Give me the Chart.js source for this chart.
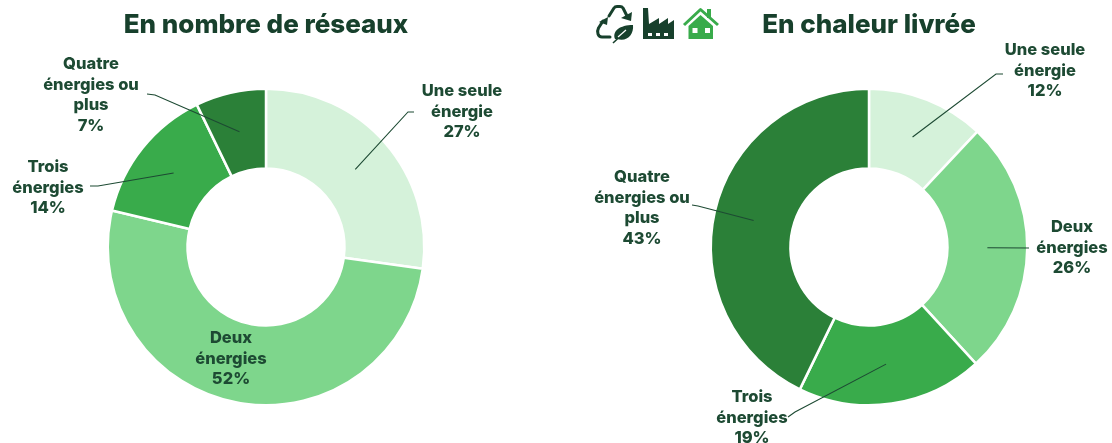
<!DOCTYPE html>
<html lang="fr"><head><meta charset="utf-8">
<style>
html,body{margin:0;padding:0;background:#fff;overflow:hidden;width:1112px;height:443px}
canvas{position:absolute;top:0}
#icons{position:absolute;left:590px;top:0}
</style>
<script src="https://cdn.jsdelivr.net/npm/chart.js@4"></script>
</head><body>
<div style="position:absolute;left:0;top:0;width:532px;height:443px"><canvas id="c1"></canvas></div>
<div style="position:absolute;left:580px;top:0;width:578px;height:443px"><canvas id="c2"></canvas></div>
<svg id="icons" width="140" height="46" viewBox="0 0 140 46">
 <g fill="none" stroke="#17402c" stroke-width="3" stroke-linejoin="round" stroke-linecap="round">
  <path d="M19 16 L24 8 Q25 6.500 27 6.500 H30 Q32 6.500 33 8 L37 16"/>
  <path d="M13 21 L8.500 28 Q7 31 8 34 Q9 37 12 37 H20"/>
 </g>
 <path d="M31 18 L41 21 L42 12 Z" fill="#17402c"/>
 <path d="M9 22 L17 25 L18 17 Z" fill="#17402c"/>
 <path d="M25 39 C22 31 30 25 43 25 C44 35 37 42 27 39 Z" fill="#17402c"/>
 <path d="M23 43 L37 30" stroke="#17402c" stroke-width="1.600" fill="none"/>
 <path d="M28 37 L36 30" stroke="#fff" stroke-width="1.200" fill="none"/>
 <path d="M53 39 V8 H58 L59 24 L69 18 V24 L78 18 V24 L84 20 V39 Z" fill="#17402c"/>
 <path d="M58 33h4v3h-4zM66 33h4v3h-4zM74 33h4v3h-4z" fill="#fff"/>
 <path d="M94 25 L110.500 9.500 L128 25" fill="none" stroke="#39ab4b" stroke-width="3" stroke-linejoin="round"/>
 <path d="M117 9h4v9h-4z" fill="#39ab4b"/>
 <path d="M98.500 26 L110.500 15 L123 26 V39 H98.500 Z" fill="#39ab4b"/>
 <path d="M102.500 28h5v5h-5zM115 28h5v5h-5z" fill="#fff"/>
</svg>
<script>
// ---- data ----
const categories = ["Une seule énergie", "Deux énergies", "Trois énergies", "Quatre énergies ou plus"];
const reseauxValues = [27.2, 51.5, 14.1, 7.2];
const chaleurValues = [12, 26.2, 19, 42.8];
const sliceColors = ["#d5f2da", "#7ed68c", "#39ab4b", "#2b8038"];
const titleReseaux = "En nombre de réseaux";
const titleChaleur = "En chaleur livrée";
const wrappedLabels = [["Une seule", "énergie"], ["Deux", "énergies"], ["Trois", "énergies"], ["Quatre", "énergies ou", "plus"]];

// ---- label layout, relative to each doughnut centre ----
const reseauxLayout = [
  {x: 196, y: -157, elbow: [[142, -135], [148, -135]]},
  {x: -35, y: 90, elbow: null},
  {x: -218, y: -81, elbow: [[-168, -61], [-176, -61]]},
  {x: -175, y: -184, elbow: [[-111, -152], [-119, -153]]}
];
const chaleurLayout = [
  {x: 176, y: -198, elbow: [[127, -173], [134, -173]]},
  {x: 203, y: -21, elbow: [[160, 1], [160, 1]]},
  {x: -117, y: 149, elbow: [[-74, 165], [-81, 170]]},
  {x: -227, y: -71, elbow: [[-171, -41], [-177, -42]]}
];

const textColor = "#1d4a33";
const leaderColor = "#1d4a33";
const labelFont = "800 16.5px Inter, 'Noto Sans', sans-serif";
const lineGap = 20.7;

const calloutPlugin = {
  id: "callouts",
  afterDatasetsDraw(chart, args, opts) {
    const ctx = chart.ctx;
    const arcs = chart.getDatasetMeta(0).data;
    const cx = arcs[0].x, cy = arcs[0].y;
    ctx.save();
    opts.layout.forEach((item, i) => {
      if (item.elbow) {
        const p = arcs[i].getCenterPoint();
        ctx.beginPath();
        ctx.moveTo(p.x, p.y);
        item.elbow.forEach(e => ctx.lineTo(cx + e[0], cy + e[1]));
        ctx.strokeStyle = leaderColor;
        ctx.lineWidth = 1.1;
        ctx.stroke();
      }
    });
    ctx.font = labelFont;
    ctx.fillStyle = textColor;
    ctx.textAlign = "center";
    ctx.textBaseline = "middle";
    opts.layout.forEach((item, i) => {
      const lines = wrappedLabels[i].concat(Math.round(chart.data.datasets[0].data[i]) + "%");
      lines.forEach((t, k) => ctx.fillText(t, cx + item.x, cy + item.y + 1 + k * lineGap));
    });
    ctx.restore();
  }
};

function makeChart(id, values, title, layout) {
  return new Chart(document.getElementById(id), {
    type: "doughnut",
    data: {
      labels: categories,
      datasets: [{
        data: values,
        backgroundColor: sliceColors,
        borderColor: "#ffffff",
        borderWidth: 2.5,
        hoverOffset: 0
      }]
    },
    options: {
      responsive: true,
      maintainAspectRatio: false,
      animation: false,
      cutout: "49.6%",
      layout: {padding: {top: 0, bottom: 36.5, left: 0, right: 0}},
      plugins: {
        legend: {display: false},
        tooltip: {enabled: false},
        title: {
          display: true,
          text: title,
          color: "#17402c",
          font: {family: "Inter, 'Noto Sans', sans-serif", size: 26, weight: "800"},
          padding: {top: 10, bottom: 46.3}
        },
        callouts: {layout: layout}
      }
    },
    plugins: [calloutPlugin]
  });
}

makeChart("c1", reseauxValues, titleReseaux, reseauxLayout);
makeChart("c2", chaleurValues, titleChaleur, chaleurLayout);
</script>
</body></html>
